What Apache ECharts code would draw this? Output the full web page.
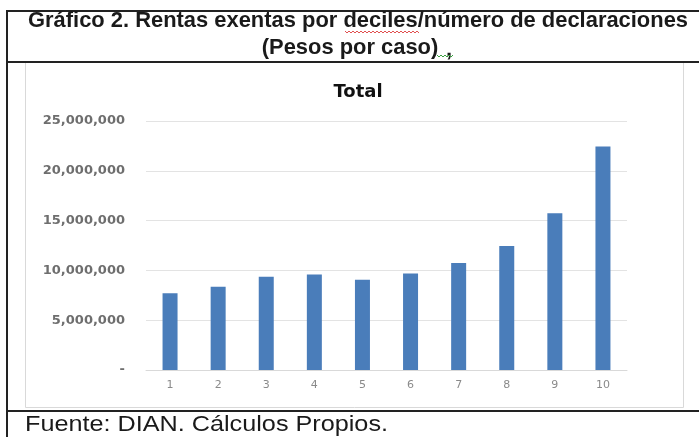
<!DOCTYPE html>
<html>
<head>
<meta charset="utf-8">
<script src="https://cdn.jsdelivr.net/npm/echarts@6/dist/echarts.min.js"></script>
<style>
  html, body { margin: 0; padding: 0; background: #fff; }
  #chart { width: 699px; height: 437px; }
</style>
</head>
<body>
<div id="chart"></div>
<script>
// datos
const deciles = ["1", "2", "3", "4", "5", "6", "7", "8", "9", "10"];
const pesosPorCaso = [7700000, 8350000, 9350000, 9600000, 9050000, 9700000, 10750000, 12450000, 15750000, 22450000];
const yTicks = [0, 5000000, 10000000, 15000000, 20000000, 25000000];

const titulo1 = "Gráfico 2. Rentas exentas por deciles/número de declaraciones";
const titulo2 = "(Pesos por caso)";
const fuente = "Fuente: DIAN. Cálculos Propios.";

// medir el texto para ajustarlo al ancho de la imagen
const ctx = document.createElement("canvas").getContext("2d");
function escala(texto, font, ancho) {
  ctx.font = font;
  return ancho / ctx.measureText(texto).width;
}

const fTit = "bold 22px 'Liberation Sans'";
const fFue = "22px 'Liberation Sans'";
const sTit = escala(titulo1, fTit, 660);
const sFue = escala(fuente, fFue, 363);

function miles(v) {
  if (v === 0) return "-";
  return String(v).replace(/\B(?=(\d{3})+(?!\d))/g, ",");
}

// subrayado ondulado del corrector
function onda(x0, x1, y) {
  let pts = [];
  for (let x = x0, i = 0; x <= x1; x += 2, i++) pts.push([x, i % 2 ? y + 2 : y]);
  return pts;
}

let myChart = echarts.init(document.getElementById("chart"));
let option = {
  animation: false,
  title: {
    text: "Total",
    left: 353,
    textAlign: "center",
    top: 78,
    textStyle: { fontFamily: "DejaVu Sans", fontWeight: "bold", fontSize: 18, color: "#111" }
  },
  grid: { left: 146, right: 72, top: 121, bottom: 67 },
  xAxis: {
    type: "category",
    data: deciles,
    axisLine: { lineStyle: { color: "#d9d9d9" } },
    axisTick: { show: false },
    axisLabel: { color: "#8a8a8a", fontFamily: "DejaVu Sans", fontSize: 11, margin: 10 }
  },
  yAxis: {
    type: "value",
    min: 0,
    max: yTicks[yTicks.length - 1],
    interval: yTicks[1] - yTicks[0],
    axisLine: { show: false },
    axisTick: { show: false },
    splitLine: { lineStyle: { color: "#e3e3e3" } },
    axisLabel: {
      color: "#6e6e6e",
      fontFamily: "DejaVu Sans",
      fontWeight: "bold",
      fontSize: 13,
      margin: 21,
      formatter: miles
    }
  },
  series: [{
    type: "bar",
    data: pesosPorCaso,
    barWidth: 15,
    itemStyle: { color: "#4a7dba" }
  }],
  graphic: [
    // marcos de la tabla
    { type: "rect", shape: { x: 25.5, y: 62.5, width: 658, height: 345 }, style: { fill: null, stroke: "#d9d9d9", lineWidth: 1 } },
    { type: "line", shape: { x1: 6, y1: 11, x2: 699, y2: 11 }, style: { stroke: "#222", lineWidth: 2 } },
    { type: "line", shape: { x1: 6, y1: 62, x2: 699, y2: 62 }, style: { stroke: "#222", lineWidth: 2 } },
    { type: "line", shape: { x1: 6, y1: 411, x2: 699, y2: 411 }, style: { stroke: "#222", lineWidth: 2 } },
    { type: "line", shape: { x1: 7, y1: 10, x2: 7, y2: 437 }, style: { stroke: "#222", lineWidth: 2 } },
    // textos
    { type: "text", x: 358, y: 20.5, scaleX: sTit, style: { text: titulo1, font: fTit, fill: "#1a1a1a", textAlign: "center", textVerticalAlign: "middle" } },
    { type: "text", x: 350, y: 47.5, scaleX: sTit, style: { text: titulo2, font: fTit, fill: "#1a1a1a", textAlign: "center", textVerticalAlign: "middle" } },
    { type: "text", x: 449, y: 50, scaleX: sTit, style: { text: ",", font: fTit, fill: "#1a1a1a", textAlign: "center", textVerticalAlign: "middle" } },
    { type: "text", x: 25, y: 425, scaleX: sFue, style: { text: fuente, font: fFue, fill: "#1a1a1a", textAlign: "left", textVerticalAlign: "middle" } },
    { type: "polyline", shape: { points: onda(345, 419, 31) }, style: { stroke: "#e05050", lineWidth: 1, fill: null } },
    { type: "polyline", shape: { points: onda(437, 453, 55) }, style: { stroke: "#3aa040", lineWidth: 1, fill: null } }
  ]
};
myChart.setOption(option);
</script>
</body>
</html>
